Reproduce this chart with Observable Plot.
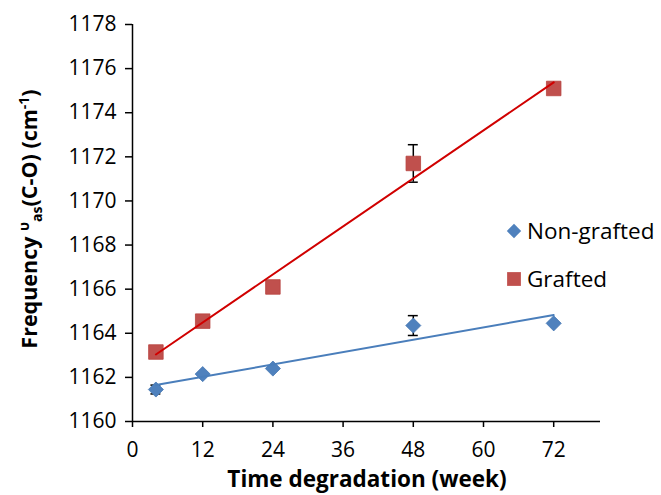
<!DOCTYPE html>
<html>
<head>
<meta charset="utf-8">
<script src="https://cdn.jsdelivr.net/npm/d3@7"></script>
<script src="https://cdn.jsdelivr.net/npm/@observablehq/plot@0.6"></script>
<style>
  html, body { margin: 0; padding: 0; background: #fff; }
  #chart { width: 661px; height: 495px; }
  svg { font-family: "Open Sans", sans-serif; }
</style>
</head>
<body>
<div id="chart"></div>
<script>
// Data
const weeks = [4, 12, 24, 48, 72];
const nonGrafted = [1161.45, 1162.15, 1162.4, 1164.35, 1164.45];
const nonGraftedErr = [0.2, 0, 0, 0.45, 0];
const grafted = [1163.15, 1164.55, 1166.1, 1171.7, 1175.1];
const graftedErr = [0, 0, 0, 0.85, 0];
const seriesNames = ["Non-grafted", "Grafted"];
const xTicks = [0, 12, 24, 36, 48, 60, 72];
const yTicks = [1160, 1162, 1164, 1166, 1168, 1170, 1172, 1174, 1176, 1178];

const ngData = weeks.map((w, i) => ({x: w, y: nonGrafted[i], e: nonGraftedErr[i]}));
const gData = weeks.map((w, i) => ({x: w, y: grafted[i], e: graftedErr[i]}));

const blue = "#4f81bd", blueLine = "#4a7ebb";
const red = "#c0504d", redLine = "#d00000";
const capHalf = 0.85;

const plot = Plot.plot({
  width: 661,
  height: 495,
  marginLeft: 132,
  marginRight: 61,
  marginTop: 24,
  marginBottom: 74,
  style: {fontFamily: "'Open Sans', sans-serif", fontSize: "21px", color: "#000", background: "#fff"},
  x: {domain: [0, 80], ticks: xTicks},
  y: {domain: [1160, 1178], ticks: yTicks},
  marks: [
    Plot.axisX({ticks: xTicks, tickFormat: d3.format("d"), tickSize: 6, tickPadding: 15, fontSize: 21, label: null, stroke: "#000", strokeWidth: 1.5}),
    Plot.axisY({ticks: yTicks, tickFormat: d3.format("d"), tickSize: 7, tickPadding: 9, fontSize: 21, label: null, stroke: "#000", strokeWidth: 1.5}),
    Plot.ruleX([0], {stroke: "#000", strokeWidth: 1.5}),
    Plot.ruleY([1160], {x1: 0, x2: 80, stroke: "#000", strokeWidth: 1.5}),
    // error bars
    ...[ngData, gData].flatMap(data => [
      Plot.ruleX(data, {x: "x", y1: d => d.y - d.e, y2: d => d.y + d.e, stroke: "#000", strokeWidth: 1.5}),
      Plot.ruleY(data, {y: d => d.y + d.e, x1: d => d.x - capHalf, x2: d => d.x + capHalf, stroke: "#000", strokeWidth: 1.5}),
      Plot.ruleY(data, {y: d => d.y - d.e, x1: d => d.x - capHalf, x2: d => d.x + capHalf, stroke: "#000", strokeWidth: 1.5})
    ]),
    Plot.dot(ngData, {x: "x", y: "y", symbol: "diamond2", r: 6.8, fill: blue, stroke: "#4677b2", strokeWidth: 0.8}),
    Plot.dot(gData, {x: "x", y: "y", symbol: "square", r: 8.2, fill: red, stroke: "#b8433f", strokeWidth: 0.8}),
    Plot.linearRegressionY(ngData, {x: "x", y: "y", stroke: blueLine, strokeWidth: 2, ci: 0}),
    Plot.linearRegressionY(gData, {x: "x", y: "y", stroke: redLine, strokeWidth: 2, ci: 0})
  ]
});

document.getElementById("chart").appendChild(plot);

const svg = d3.select(plot);

// X title
svg.append("text")
  .attr("x", 367).attr("y", 487)
  .attr("text-anchor", "middle")
  .attr("font-family", "'Open Sans', sans-serif")
  .attr("font-weight", "bold")
  .attr("font-size", 22.5)
  .attr("fill", "#000")
  .text("Time degradation (week)");

// Y title
const yt = svg.append("text")
  .attr("transform", "translate(37,219) rotate(-90)")
  .attr("text-anchor", "middle")
  .attr("font-family", "'Open Sans', sans-serif")
  .attr("font-weight", "bold")
  .attr("font-size", 21.5)
  .attr("fill", "#000");
yt.append("tspan").text("Frequency ");
yt.append("tspan").attr("font-size", 14).attr("dy", -8).text("υ");
yt.append("tspan").attr("font-size", 14).attr("dy", 13).text("as");
yt.append("tspan").attr("dy", -5).text("(C-O) (cm");
yt.append("tspan").attr("font-size", 14).attr("dy", -8).text("-1");
yt.append("tspan").attr("dy", 8).text(")");

// Legend
const leg = svg.append("g").attr("font-family", "'Open Sans', sans-serif").attr("font-size", 22.5).attr("text-anchor", "start");
const legItems = [
  {name: seriesNames[0], sym: d3.symbolDiamond2, size: Math.PI * 6.8 * 6.8 * 0.9, fill: blue, y: 231},
  {name: seriesNames[1], sym: d3.symbolSquare, size: Math.PI * 8.2 * 8.2 * 0.9, fill: red, y: 279}
];
legItems.forEach(it => {
  leg.append("path")
    .attr("d", d3.symbol(it.sym, it.size)())
    .attr("transform", `translate(514,${it.y})`)
    .attr("fill", it.fill);
  leg.append("text")
    .attr("x", 527).attr("y", it.y).attr("dy", "0.35em")
    .attr("text-anchor", "start")
    .attr("fill", "#000")
    .text(it.name);
});
</script>
</body>
</html>
